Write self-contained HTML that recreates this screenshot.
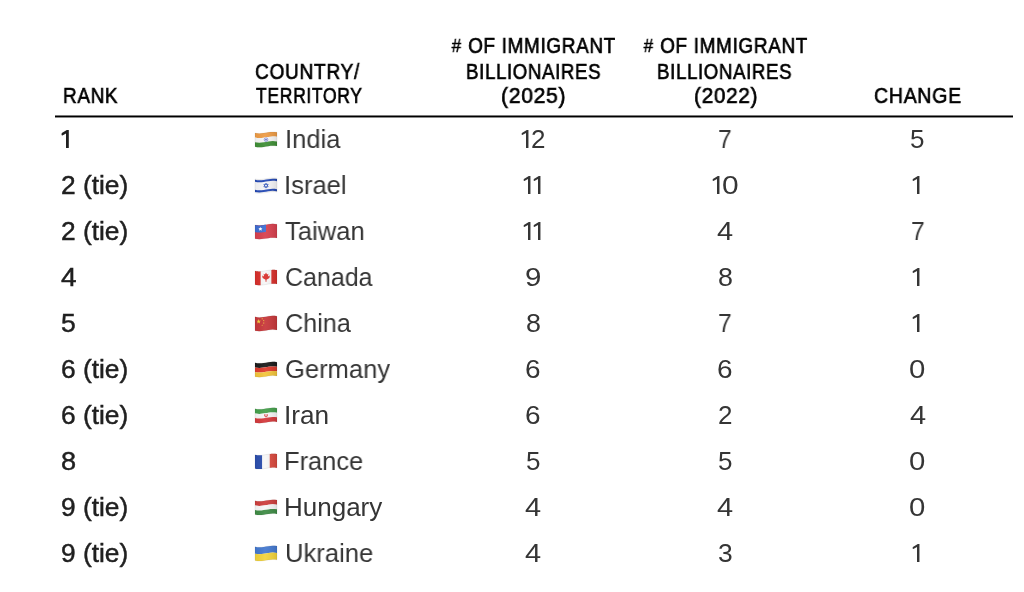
<!DOCTYPE html>
<html><head><meta charset="utf-8"><title>Immigrant billionaires</title>
<style>
html,body{margin:0;padding:0;background:#fff;}
body{width:1024px;height:592px;position:relative;overflow:hidden;font-family:"Liberation Sans",sans-serif;}
.t{position:absolute;white-space:nowrap;transform-origin:0 0;will-change:transform;}
.f{position:absolute;overflow:visible;}
.rule{position:absolute;left:55px;top:116px;width:958px;height:1px;background:#000;box-shadow:0 -1px 0 #7a7a7a,0 1px 0 #8a8a8a;}
</style></head><body>
<svg width="0" height="0" style="position:absolute"><defs><linearGradient id="shade" x1="0" y1="0" x2="1" y2="0"><stop offset="0" stop-color="#000" stop-opacity="0.04"/><stop offset="0.45" stop-color="#fff" stop-opacity="0.06"/><stop offset="1" stop-color="#000" stop-opacity="0.10"/></linearGradient></defs></svg>
<div class="t" style="left:62.73px;top:85.37px;font-size:22px;line-height:22px;color:#000;-webkit-text-stroke:0.65px #000;transform:scale(0.8590,1.0000);letter-spacing:0.8px;">RANK</div><div class="t" style="left:254.73px;top:60.57px;font-size:22px;line-height:22px;color:#000;-webkit-text-stroke:0.65px #000;transform:scale(0.8684,1.0000);letter-spacing:0.8px;">COUNTRY/</div><div class="t" style="left:255.66px;top:85.37px;font-size:22px;line-height:22px;color:#000;-webkit-text-stroke:0.65px #000;transform:scale(0.7986,1.0000);letter-spacing:0.8px;">TERRITORY</div><div class="t" style="left:451.39px;top:35.17px;font-size:22px;line-height:22px;color:#000;-webkit-text-stroke:0.65px #000;transform:scale(0.8586,1.0000);letter-spacing:0.8px;"><span style="display:inline-block;transform:scale(0.9,0.87);transform-origin:50% 62%">#</span> OF IMMIGRANT</div><div class="t" style="left:465.75px;top:60.57px;font-size:22px;line-height:22px;color:#000;-webkit-text-stroke:0.65px #000;transform:scale(0.8450,1.0000);letter-spacing:0.8px;">BILLIONAIRES</div><div class="t" style="left:500.98px;top:85.37px;font-size:22px;line-height:22px;color:#000;-webkit-text-stroke:0.65px #000;transform:scale(0.9535,1.0000);letter-spacing:0.8px;">(2025)</div><div class="t" style="left:643.09px;top:35.17px;font-size:22px;line-height:22px;color:#000;-webkit-text-stroke:0.65px #000;transform:scale(0.8592,1.0000);letter-spacing:0.8px;"><span style="display:inline-block;transform:scale(0.9,0.87);transform-origin:50% 62%">#</span> OF IMMIGRANT</div><div class="t" style="left:657.45px;top:60.57px;font-size:22px;line-height:22px;color:#000;-webkit-text-stroke:0.65px #000;transform:scale(0.8450,1.0000);letter-spacing:0.8px;">BILLIONAIRES</div><div class="t" style="left:693.79px;top:85.37px;font-size:22px;line-height:22px;color:#000;-webkit-text-stroke:0.65px #000;transform:scale(0.9382,1.0000);letter-spacing:0.8px;">(2022)</div><div class="t" style="left:874.21px;top:85.37px;font-size:22px;line-height:22px;color:#000;-webkit-text-stroke:0.65px #000;transform:scale(0.8877,1.0000);letter-spacing:0.8px;">CHANGE</div><svg class="f" style="left:60.60px;top:129.25px" width="9" height="20" viewBox="0 0 9 20"><path d="M5.80,1.00 L7.80,1.00 L7.80,19.00 L5.00,19.00 L5.00,4.50 L1.40,6.60 L0.70,6.20 L0.50,5.40 L0.80,4.10Z" fill="#202020"/></svg><div class="t" style="left:284.64px;top:126.24px;font-size:26px;line-height:26px;color:#353535;transform:scale(0.9815,1.0000);">India</div><svg class="f" style="left:520.90px;top:129.25px" width="9" height="20" viewBox="0 0 9 20"><path d="M5.80,1.10 L7.45,1.10 L7.45,19.00 L5.00,19.00 L5.00,4.10 L1.30,6.10 L0.80,5.80 L0.60,5.10 L0.90,4.10Z" fill="#353535"/></svg><div class="t" style="left:530.76px;top:126.24px;font-size:26px;line-height:26px;color:#353535;transform:scale(0.9958,1.0000);">2</div><div class="t" style="left:718.32px;top:126.24px;font-size:26px;line-height:26px;color:#353535;transform:scale(0.9496,1.0000);">7</div><div class="t" style="left:910.37px;top:126.24px;font-size:26px;line-height:26px;color:#353535;transform:scale(0.9837,1.0000);">5</div><div class="t" style="left:60.61px;top:172.22px;font-size:26px;line-height:26px;color:#202020;-webkit-text-stroke:0.45px #202020;transform:scale(1.0117,1.0000);">2 (tie)</div><div class="t" style="left:284.14px;top:172.22px;font-size:26px;line-height:26px;color:#353535;transform:scale(0.9848,1.0000);">Israel</div><svg class="f" style="left:522.70px;top:175.23px" width="9" height="20" viewBox="0 0 9 20"><path d="M5.80,1.10 L7.45,1.10 L7.45,19.00 L5.00,19.00 L5.00,4.10 L1.30,6.10 L0.80,5.80 L0.60,5.10 L0.90,4.10Z" fill="#353535"/></svg><svg class="f" style="left:532.80px;top:175.23px" width="9" height="20" viewBox="0 0 9 20"><path d="M5.80,1.10 L7.45,1.10 L7.45,19.00 L5.00,19.00 L5.00,4.10 L1.30,6.10 L0.80,5.80 L0.60,5.10 L0.90,4.10Z" fill="#353535"/></svg><svg class="f" style="left:711.60px;top:175.23px" width="9" height="20" viewBox="0 0 9 20"><path d="M5.80,1.10 L7.45,1.10 L7.45,19.00 L5.00,19.00 L5.00,4.10 L1.30,6.10 L0.80,5.80 L0.60,5.10 L0.90,4.10Z" fill="#353535"/></svg><div class="t" style="left:722.05px;top:172.22px;font-size:26px;line-height:26px;color:#353535;transform:scale(1.1500,1.0000);">0</div><svg class="f" style="left:912.40px;top:175.23px" width="9" height="20" viewBox="0 0 9 20"><path d="M5.80,1.10 L7.45,1.10 L7.45,19.00 L5.00,19.00 L5.00,4.10 L1.30,6.10 L0.80,5.80 L0.60,5.10 L0.90,4.10Z" fill="#353535"/></svg><div class="t" style="left:60.61px;top:218.20px;font-size:26px;line-height:26px;color:#202020;-webkit-text-stroke:0.45px #202020;transform:scale(1.0117,1.0000);">2 (tie)</div><div class="t" style="left:285.21px;top:218.20px;font-size:26px;line-height:26px;color:#353535;transform:scale(0.9848,1.0000);">Taiwan</div><svg class="f" style="left:522.70px;top:221.21px" width="9" height="20" viewBox="0 0 9 20"><path d="M5.80,1.10 L7.45,1.10 L7.45,19.00 L5.00,19.00 L5.00,4.10 L1.30,6.10 L0.80,5.80 L0.60,5.10 L0.90,4.10Z" fill="#353535"/></svg><svg class="f" style="left:532.80px;top:221.21px" width="9" height="20" viewBox="0 0 9 20"><path d="M5.80,1.10 L7.45,1.10 L7.45,19.00 L5.00,19.00 L5.00,4.10 L1.30,6.10 L0.80,5.80 L0.60,5.10 L0.90,4.10Z" fill="#353535"/></svg><div class="t" style="left:717.23px;top:218.20px;font-size:26px;line-height:26px;color:#353535;transform:scale(1.1145,1.0000);">4</div><div class="t" style="left:910.62px;top:218.20px;font-size:26px;line-height:26px;color:#353535;transform:scale(0.9496,1.0000);">7</div><div class="t" style="left:61.20px;top:264.18px;font-size:26px;line-height:26px;color:#202020;-webkit-text-stroke:0.45px #202020;transform:scale(1.0775,1.0000);">4</div><div class="t" style="left:284.75px;top:264.18px;font-size:26px;line-height:26px;color:#353535;transform:scale(0.9610,1.0000);">Canada</div><div class="t" style="left:525.14px;top:264.18px;font-size:26px;line-height:26px;color:#353535;transform:scale(1.1333,1.0000);">9</div><div class="t" style="left:717.76px;top:264.18px;font-size:26px;line-height:26px;color:#353535;transform:scale(1.0328,1.0000);">8</div><svg class="f" style="left:912.40px;top:267.19px" width="9" height="20" viewBox="0 0 9 20"><path d="M5.80,1.10 L7.45,1.10 L7.45,19.00 L5.00,19.00 L5.00,4.10 L1.30,6.10 L0.80,5.80 L0.60,5.10 L0.90,4.10Z" fill="#353535"/></svg><div class="t" style="left:60.71px;top:310.16px;font-size:26px;line-height:26px;color:#202020;-webkit-text-stroke:0.45px #202020;transform:scale(1.0196,1.0000);">5</div><div class="t" style="left:284.74px;top:310.16px;font-size:26px;line-height:26px;color:#353535;transform:scale(0.9685,1.0000);">China</div><div class="t" style="left:525.86px;top:310.16px;font-size:26px;line-height:26px;color:#353535;transform:scale(1.0328,1.0000);">8</div><div class="t" style="left:718.32px;top:310.16px;font-size:26px;line-height:26px;color:#353535;transform:scale(0.9496,1.0000);">7</div><svg class="f" style="left:912.40px;top:313.17px" width="9" height="20" viewBox="0 0 9 20"><path d="M5.80,1.10 L7.45,1.10 L7.45,19.00 L5.00,19.00 L5.00,4.10 L1.30,6.10 L0.80,5.80 L0.60,5.10 L0.90,4.10Z" fill="#353535"/></svg><div class="t" style="left:60.61px;top:356.14px;font-size:26px;line-height:26px;color:#202020;-webkit-text-stroke:0.45px #202020;transform:scale(1.0117,1.0000);">6 (tie)</div><div class="t" style="left:284.62px;top:356.14px;font-size:26px;line-height:26px;color:#353535;transform:scale(0.9829,1.0000);">Germany</div><div class="t" style="left:525.45px;top:356.14px;font-size:26px;line-height:26px;color:#353535;transform:scale(1.0750,1.0000);">6</div><div class="t" style="left:717.35px;top:356.14px;font-size:26px;line-height:26px;color:#353535;transform:scale(1.0750,1.0000);">6</div><div class="t" style="left:909.37px;top:356.14px;font-size:26px;line-height:26px;color:#353535;transform:scale(1.1290,1.0000);">0</div><div class="t" style="left:60.61px;top:402.12px;font-size:26px;line-height:26px;color:#202020;-webkit-text-stroke:0.45px #202020;transform:scale(1.0117,1.0000);">6 (tie)</div><div class="t" style="left:284.08px;top:402.12px;font-size:26px;line-height:26px;color:#353535;transform:scale(1.0074,1.0000);">Iran</div><div class="t" style="left:525.45px;top:402.12px;font-size:26px;line-height:26px;color:#353535;transform:scale(1.0750,1.0000);">6</div><div class="t" style="left:717.95px;top:402.12px;font-size:26px;line-height:26px;color:#353535;transform:scale(1.0000,1.0000);">2</div><div class="t" style="left:909.53px;top:402.12px;font-size:26px;line-height:26px;color:#353535;transform:scale(1.1145,1.0000);">4</div><div class="t" style="left:60.69px;top:448.10px;font-size:26px;line-height:26px;color:#202020;-webkit-text-stroke:0.45px #202020;transform:scale(1.0435,1.0000);">8</div><div class="t" style="left:284.45px;top:448.10px;font-size:26px;line-height:26px;color:#353535;transform:scale(0.9781,1.0000);">France</div><div class="t" style="left:526.17px;top:448.10px;font-size:26px;line-height:26px;color:#353535;transform:scale(0.9837,1.0000);">5</div><div class="t" style="left:718.07px;top:448.10px;font-size:26px;line-height:26px;color:#353535;transform:scale(0.9837,1.0000);">5</div><div class="t" style="left:909.37px;top:448.10px;font-size:26px;line-height:26px;color:#353535;transform:scale(1.1290,1.0000);">0</div><div class="t" style="left:60.72px;top:494.08px;font-size:26px;line-height:26px;color:#202020;-webkit-text-stroke:0.45px #202020;transform:scale(1.0101,1.0000);">9 (tie)</div><div class="t" style="left:284.41px;top:494.08px;font-size:26px;line-height:26px;color:#353535;transform:scale(0.9958,1.0000);">Hungary</div><div class="t" style="left:525.33px;top:494.08px;font-size:26px;line-height:26px;color:#353535;transform:scale(1.1145,1.0000);">4</div><div class="t" style="left:717.23px;top:494.08px;font-size:26px;line-height:26px;color:#353535;transform:scale(1.1145,1.0000);">4</div><div class="t" style="left:909.37px;top:494.08px;font-size:26px;line-height:26px;color:#353535;transform:scale(1.1290,1.0000);">0</div><div class="t" style="left:60.72px;top:540.06px;font-size:26px;line-height:26px;color:#202020;-webkit-text-stroke:0.45px #202020;transform:scale(1.0101,1.0000);">9 (tie)</div><div class="t" style="left:284.53px;top:540.06px;font-size:26px;line-height:26px;color:#353535;transform:scale(0.9838,1.0000);">Ukraine</div><div class="t" style="left:525.33px;top:540.06px;font-size:26px;line-height:26px;color:#353535;transform:scale(1.1145,1.0000);">4</div><div class="t" style="left:717.93px;top:540.06px;font-size:26px;line-height:26px;color:#353535;transform:scale(1.0163,1.0000);">3</div><svg class="f" style="left:912.40px;top:543.07px" width="9" height="20" viewBox="0 0 9 20"><path d="M5.80,1.10 L7.45,1.10 L7.45,19.00 L5.00,19.00 L5.00,4.10 L1.30,6.10 L0.80,5.80 L0.60,5.10 L0.90,4.10Z" fill="#353535"/></svg>
<div class="rule"></div>
<svg class="f" style="left:254px;top:131px" width="24" height="18" viewBox="-1 0 24 18"><g transform="translate(0,0.70)"><path d="M0.00,1.25 L2.13,1.65 L4.30,1.76 L6.52,1.65 L8.75,1.38 L11.00,1.03 L13.25,0.67 L15.48,0.37 L17.70,0.20 L19.87,0.24 L22.00,0.55 L22.00,5.15 L19.87,4.84 L17.70,4.80 L15.48,4.97 L13.25,5.27 L11.00,5.63 L8.75,5.98 L6.52,6.25 L4.30,6.36 L2.13,6.25 L0.00,5.85Z" fill="#EE9C45"/><path d="M0.00,5.85 L2.13,6.25 L4.30,6.36 L6.52,6.25 L8.75,5.98 L11.00,5.63 L13.25,5.27 L15.48,4.97 L17.70,4.80 L19.87,4.84 L22.00,5.15 L22.00,9.75 L19.87,9.44 L17.70,9.40 L15.48,9.57 L13.25,9.87 L11.00,10.23 L8.75,10.58 L6.52,10.85 L4.30,10.96 L2.13,10.85 L0.00,10.45Z" fill="#F7F7F7"/><path d="M0.00,10.45 L2.13,10.85 L4.30,10.96 L6.52,10.85 L8.75,10.58 L11.00,10.23 L13.25,9.87 L15.48,9.57 L17.70,9.40 L19.87,9.44 L22.00,9.75 L22.00,14.35 L19.87,14.04 L17.70,14.00 L15.48,14.17 L13.25,14.47 L11.00,14.83 L8.75,15.18 L6.52,15.45 L4.30,15.56 L2.13,15.45 L0.00,15.05Z" fill="#3F8F36"/><circle cx="11.00" cy="7.93" r="1.9" fill="#d6d9f2" stroke="#6570c8" stroke-width="0.55"/><circle cx="11.00" cy="7.93" r="0.65" fill="#23309a"/><path d="M0.00,1.25 L2.13,1.65 L4.30,1.76 L6.52,1.65 L8.75,1.38 L11.00,1.03 L13.25,0.67 L15.48,0.37 L17.70,0.20 L19.87,0.24 L22.00,0.55 L22.00,14.35 L19.87,14.04 L17.70,14.00 L15.48,14.17 L13.25,14.47 L11.00,14.83 L8.75,15.18 L6.52,15.45 L4.30,15.56 L2.13,15.45 L0.00,15.05Z" fill="url(#shade)"/><path d="M0.00,1.25 L2.13,1.65 L4.30,1.76 L6.52,1.65 L8.75,1.38 L11.00,1.03 L13.25,0.67 L15.48,0.37 L17.70,0.20 L19.87,0.24 L22.00,0.55 L22.00,14.35 L19.87,14.04 L17.70,14.00 L15.48,14.17 L13.25,14.47 L11.00,14.83 L8.75,15.18 L6.52,15.45 L4.30,15.56 L2.13,15.45 L0.00,15.05Z" fill="none" stroke="#000" stroke-opacity="0.13" stroke-width="0.5"/></g></svg><svg class="f" style="left:254px;top:177px" width="24" height="18" viewBox="-1 0 24 18"><g transform="translate(0,0.68)"><path d="M0.00,1.25 L2.13,1.65 L4.30,1.76 L6.52,1.65 L8.75,1.38 L11.00,1.03 L13.25,0.67 L15.48,0.37 L17.70,0.20 L19.87,0.24 L22.00,0.55 L22.00,14.35 L19.87,14.04 L17.70,14.00 L15.48,14.17 L13.25,14.47 L11.00,14.83 L8.75,15.18 L6.52,15.45 L4.30,15.56 L2.13,15.45 L0.00,15.05Z" fill="#F6F6F8"/><path d="M0.00,2.08 L2.13,2.48 L4.30,2.59 L6.52,2.48 L8.75,2.21 L11.00,1.86 L13.25,1.50 L15.48,1.20 L17.70,1.03 L19.87,1.07 L22.00,1.38 L22.00,3.45 L19.87,3.14 L17.70,3.10 L15.48,3.27 L13.25,3.57 L11.00,3.93 L8.75,4.28 L6.52,4.55 L4.30,4.66 L2.13,4.55 L0.00,4.15Z" fill="#2449B5"/><path d="M0.00,12.15 L2.13,12.56 L4.30,12.67 L6.52,12.55 L8.75,12.28 L11.00,11.93 L13.25,11.57 L15.48,11.27 L17.70,11.11 L19.87,11.14 L22.00,11.45 L22.00,13.52 L19.87,13.21 L17.70,13.18 L15.48,13.34 L13.25,13.64 L11.00,14.00 L8.75,14.35 L6.52,14.62 L4.30,14.74 L2.13,14.63 L0.00,14.22Z" fill="#2449B5"/><path d="M11.00,5.43 L13.17,9.18 L8.83,9.18Z" fill="none" stroke="#2449B5" stroke-width="0.7"/><path d="M11.00,10.43 L8.83,6.68 L13.17,6.68Z" fill="none" stroke="#2449B5" stroke-width="0.7"/><path d="M0.00,1.25 L2.13,1.65 L4.30,1.76 L6.52,1.65 L8.75,1.38 L11.00,1.03 L13.25,0.67 L15.48,0.37 L17.70,0.20 L19.87,0.24 L22.00,0.55 L22.00,14.35 L19.87,14.04 L17.70,14.00 L15.48,14.17 L13.25,14.47 L11.00,14.83 L8.75,15.18 L6.52,15.45 L4.30,15.56 L2.13,15.45 L0.00,15.05Z" fill="url(#shade)"/><path d="M0.00,1.25 L2.13,1.65 L4.30,1.76 L6.52,1.65 L8.75,1.38 L11.00,1.03 L13.25,0.67 L15.48,0.37 L17.70,0.20 L19.87,0.24 L22.00,0.55 L22.00,14.35 L19.87,14.04 L17.70,14.00 L15.48,14.17 L13.25,14.47 L11.00,14.83 L8.75,15.18 L6.52,15.45 L4.30,15.56 L2.13,15.45 L0.00,15.05Z" fill="none" stroke="#000" stroke-opacity="0.13" stroke-width="0.5"/></g></svg><svg class="f" style="left:254px;top:223px" width="24" height="18" viewBox="-1 0 24 18"><g transform="translate(0,0.66)"><path d="M0.00,1.25 L2.13,1.65 L4.30,1.76 L6.52,1.65 L8.75,1.38 L11.00,1.03 L13.25,0.67 L15.48,0.37 L17.70,0.20 L19.87,0.24 L22.00,0.55 L22.00,14.35 L19.87,14.04 L17.70,14.00 L15.48,14.17 L13.25,14.47 L11.00,14.83 L8.75,15.18 L6.52,15.45 L4.30,15.56 L2.13,15.45 L0.00,15.05Z" fill="#D8404E"/><path d="M0.00,1.25 L1.06,1.49 L2.13,1.65 L3.21,1.74 L4.30,1.76 L5.41,1.73 L6.52,1.65 L7.63,1.53 L8.75,1.38 L9.88,1.21 L11.00,1.03 L11.00,8.21 L9.88,8.39 L8.75,8.56 L7.63,8.71 L6.52,8.82 L5.41,8.91 L4.30,8.94 L3.21,8.92 L2.13,8.83 L1.06,8.67 L0.00,8.43Z" fill="#3E6ED3"/><path d="M5.41,3.12 L5.95,4.57 L7.50,4.64 L6.29,5.60 L6.70,7.10 L5.41,6.24 L4.11,7.10 L4.53,5.60 L3.31,4.64 L4.86,4.57Z" fill="#fff"/><circle cx="5.41" cy="5.32" r="1.1" fill="#fff"/><path d="M0.00,1.25 L2.13,1.65 L4.30,1.76 L6.52,1.65 L8.75,1.38 L11.00,1.03 L13.25,0.67 L15.48,0.37 L17.70,0.20 L19.87,0.24 L22.00,0.55 L22.00,14.35 L19.87,14.04 L17.70,14.00 L15.48,14.17 L13.25,14.47 L11.00,14.83 L8.75,15.18 L6.52,15.45 L4.30,15.56 L2.13,15.45 L0.00,15.05Z" fill="url(#shade)"/><path d="M0.00,1.25 L2.13,1.65 L4.30,1.76 L6.52,1.65 L8.75,1.38 L11.00,1.03 L13.25,0.67 L15.48,0.37 L17.70,0.20 L19.87,0.24 L22.00,0.55 L22.00,14.35 L19.87,14.04 L17.70,14.00 L15.48,14.17 L13.25,14.47 L11.00,14.83 L8.75,15.18 L6.52,15.45 L4.30,15.56 L2.13,15.45 L0.00,15.05Z" fill="none" stroke="#000" stroke-opacity="0.13" stroke-width="0.5"/></g></svg><svg class="f" style="left:254px;top:269px" width="24" height="18" viewBox="-1 0 24 18"><g transform="translate(0,0.64)"><path d="M0.00,1.25 L2.13,1.65 L4.30,1.76 L6.52,1.65 L8.75,1.38 L11.00,1.03 L13.25,0.67 L15.48,0.37 L17.70,0.20 L19.87,0.24 L22.00,0.55 L22.00,14.35 L19.87,14.04 L17.70,14.00 L15.48,14.17 L13.25,14.47 L11.00,14.83 L8.75,15.18 L6.52,15.45 L4.30,15.56 L2.13,15.45 L0.00,15.05Z" fill="#F7F7F7"/><path d="M0.00,1.25 L0.55,1.39 L1.10,1.50 L1.66,1.59 L2.21,1.66 L2.78,1.72 L3.34,1.75 L3.91,1.76 L4.48,1.76 L5.05,1.75 L5.63,1.72 L5.63,15.52 L5.05,15.55 L4.48,15.56 L3.91,15.56 L3.34,15.55 L2.78,15.52 L2.21,15.46 L1.66,15.39 L1.10,15.30 L0.55,15.19 L0.00,15.05Z" fill="#D9302C"/><path d="M16.37,0.28 L16.95,0.24 L17.52,0.21 L18.09,0.19 L18.66,0.19 L19.22,0.20 L19.79,0.23 L20.34,0.28 L20.90,0.35 L21.45,0.44 L22.00,0.55 L22.00,14.35 L21.45,14.24 L20.90,14.15 L20.34,14.08 L19.79,14.03 L19.22,14.00 L18.66,13.99 L18.09,13.99 L17.52,14.01 L16.95,14.04 L16.37,14.08Z" fill="#D9302C"/><path d="M11.00,2.80 L12.08,4.87 L13.40,4.18 L12.92,6.94 L14.84,5.79 L14.36,8.32 L11.48,10.16 L11.48,12.23 L10.52,12.23 L10.52,10.16 L7.64,8.32 L7.16,5.79 L9.08,6.94 L8.60,4.18 L9.92,4.87Z" fill="#D9302C"/><path d="M0.00,1.25 L2.13,1.65 L4.30,1.76 L6.52,1.65 L8.75,1.38 L11.00,1.03 L13.25,0.67 L15.48,0.37 L17.70,0.20 L19.87,0.24 L22.00,0.55 L22.00,14.35 L19.87,14.04 L17.70,14.00 L15.48,14.17 L13.25,14.47 L11.00,14.83 L8.75,15.18 L6.52,15.45 L4.30,15.56 L2.13,15.45 L0.00,15.05Z" fill="url(#shade)"/><path d="M0.00,1.25 L2.13,1.65 L4.30,1.76 L6.52,1.65 L8.75,1.38 L11.00,1.03 L13.25,0.67 L15.48,0.37 L17.70,0.20 L19.87,0.24 L22.00,0.55 L22.00,14.35 L19.87,14.04 L17.70,14.00 L15.48,14.17 L13.25,14.47 L11.00,14.83 L8.75,15.18 L6.52,15.45 L4.30,15.56 L2.13,15.45 L0.00,15.05Z" fill="none" stroke="#000" stroke-opacity="0.13" stroke-width="0.5"/></g></svg><svg class="f" style="left:254px;top:315px" width="24" height="18" viewBox="-1 0 24 18"><g transform="translate(0,0.62)"><path d="M0.00,1.25 L2.13,1.65 L4.30,1.76 L6.52,1.65 L8.75,1.38 L11.00,1.03 L13.25,0.67 L15.48,0.37 L17.70,0.20 L19.87,0.24 L22.00,0.55 L22.00,14.35 L19.87,14.04 L17.70,14.00 L15.48,14.17 L13.25,14.47 L11.00,14.83 L8.75,15.18 L6.52,15.45 L4.30,15.56 L2.13,15.45 L0.00,15.05Z" fill="#C8383B"/><path d="M3.65,3.50 L4.24,5.08 L5.93,5.16 L4.61,6.21 L5.06,7.84 L3.65,6.91 L2.24,7.84 L2.69,6.21 L1.36,5.16 L3.05,5.08Z" fill="#F6D33C"/><path d="M7.18,2.44 L7.38,2.97 L7.95,2.99 L7.50,3.34 L7.66,3.88 L7.18,3.57 L6.71,3.88 L6.87,3.34 L6.42,2.99 L6.99,2.97Z" fill="#F6D33C"/><path d="M8.75,4.17 L8.95,4.70 L9.51,4.72 L9.07,5.07 L9.22,5.62 L8.75,5.30 L8.28,5.62 L8.43,5.07 L7.99,4.72 L8.55,4.70Z" fill="#F6D33C"/><path d="M8.75,6.65 L8.95,7.18 L9.51,7.21 L9.07,7.56 L9.22,8.10 L8.75,7.79 L8.28,8.10 L8.43,7.56 L7.99,7.21 L8.55,7.18Z" fill="#F6D33C"/><path d="M7.18,8.79 L7.38,9.31 L7.95,9.34 L7.50,9.69 L7.66,10.23 L7.18,9.92 L6.71,10.23 L6.87,9.69 L6.42,9.34 L6.99,9.31Z" fill="#F6D33C"/><path d="M0.00,1.25 L2.13,1.65 L4.30,1.76 L6.52,1.65 L8.75,1.38 L11.00,1.03 L13.25,0.67 L15.48,0.37 L17.70,0.20 L19.87,0.24 L22.00,0.55 L22.00,14.35 L19.87,14.04 L17.70,14.00 L15.48,14.17 L13.25,14.47 L11.00,14.83 L8.75,15.18 L6.52,15.45 L4.30,15.56 L2.13,15.45 L0.00,15.05Z" fill="url(#shade)"/><path d="M0.00,1.25 L2.13,1.65 L4.30,1.76 L6.52,1.65 L8.75,1.38 L11.00,1.03 L13.25,0.67 L15.48,0.37 L17.70,0.20 L19.87,0.24 L22.00,0.55 L22.00,14.35 L19.87,14.04 L17.70,14.00 L15.48,14.17 L13.25,14.47 L11.00,14.83 L8.75,15.18 L6.52,15.45 L4.30,15.56 L2.13,15.45 L0.00,15.05Z" fill="none" stroke="#000" stroke-opacity="0.13" stroke-width="0.5"/></g></svg><svg class="f" style="left:254px;top:361px" width="24" height="18" viewBox="-1 0 24 18"><g transform="translate(0,0.60)"><path d="M0.00,1.25 L2.13,1.65 L4.30,1.76 L6.52,1.65 L8.75,1.38 L11.00,1.03 L13.25,0.67 L15.48,0.37 L17.70,0.20 L19.87,0.24 L22.00,0.55 L22.00,5.15 L19.87,4.84 L17.70,4.80 L15.48,4.97 L13.25,5.27 L11.00,5.63 L8.75,5.98 L6.52,6.25 L4.30,6.36 L2.13,6.25 L0.00,5.85Z" fill="#1B1B1B"/><path d="M0.00,5.85 L2.13,6.25 L4.30,6.36 L6.52,6.25 L8.75,5.98 L11.00,5.63 L13.25,5.27 L15.48,4.97 L17.70,4.80 L19.87,4.84 L22.00,5.15 L22.00,9.75 L19.87,9.44 L17.70,9.40 L15.48,9.57 L13.25,9.87 L11.00,10.23 L8.75,10.58 L6.52,10.85 L4.30,10.96 L2.13,10.85 L0.00,10.45Z" fill="#DD3A2C"/><path d="M0.00,10.45 L2.13,10.85 L4.30,10.96 L6.52,10.85 L8.75,10.58 L11.00,10.23 L13.25,9.87 L15.48,9.57 L17.70,9.40 L19.87,9.44 L22.00,9.75 L22.00,14.35 L19.87,14.04 L17.70,14.00 L15.48,14.17 L13.25,14.47 L11.00,14.83 L8.75,15.18 L6.52,15.45 L4.30,15.56 L2.13,15.45 L0.00,15.05Z" fill="#F3C53B"/><path d="M0.00,1.25 L2.13,1.65 L4.30,1.76 L6.52,1.65 L8.75,1.38 L11.00,1.03 L13.25,0.67 L15.48,0.37 L17.70,0.20 L19.87,0.24 L22.00,0.55 L22.00,14.35 L19.87,14.04 L17.70,14.00 L15.48,14.17 L13.25,14.47 L11.00,14.83 L8.75,15.18 L6.52,15.45 L4.30,15.56 L2.13,15.45 L0.00,15.05Z" fill="url(#shade)"/><path d="M0.00,1.25 L2.13,1.65 L4.30,1.76 L6.52,1.65 L8.75,1.38 L11.00,1.03 L13.25,0.67 L15.48,0.37 L17.70,0.20 L19.87,0.24 L22.00,0.55 L22.00,14.35 L19.87,14.04 L17.70,14.00 L15.48,14.17 L13.25,14.47 L11.00,14.83 L8.75,15.18 L6.52,15.45 L4.30,15.56 L2.13,15.45 L0.00,15.05Z" fill="none" stroke="#000" stroke-opacity="0.13" stroke-width="0.5"/></g></svg><svg class="f" style="left:254px;top:407px" width="24" height="18" viewBox="-1 0 24 18"><g transform="translate(0,0.58)"><path d="M0.00,1.25 L2.13,1.65 L4.30,1.76 L6.52,1.65 L8.75,1.38 L11.00,1.03 L13.25,0.67 L15.48,0.37 L17.70,0.20 L19.87,0.24 L22.00,0.55 L22.00,5.15 L19.87,4.84 L17.70,4.80 L15.48,4.97 L13.25,5.27 L11.00,5.63 L8.75,5.98 L6.52,6.25 L4.30,6.36 L2.13,6.25 L0.00,5.85Z" fill="#45A04C"/><path d="M0.00,5.85 L2.13,6.25 L4.30,6.36 L6.52,6.25 L8.75,5.98 L11.00,5.63 L13.25,5.27 L15.48,4.97 L17.70,4.80 L19.87,4.84 L22.00,5.15 L22.00,9.75 L19.87,9.44 L17.70,9.40 L15.48,9.57 L13.25,9.87 L11.00,10.23 L8.75,10.58 L6.52,10.85 L4.30,10.96 L2.13,10.85 L0.00,10.45Z" fill="#F7F7F7"/><path d="M0.00,10.45 L2.13,10.85 L4.30,10.96 L6.52,10.85 L8.75,10.58 L11.00,10.23 L13.25,9.87 L15.48,9.57 L17.70,9.40 L19.87,9.44 L22.00,9.75 L22.00,14.35 L19.87,14.04 L17.70,14.00 L15.48,14.17 L13.25,14.47 L11.00,14.83 L8.75,15.18 L6.52,15.45 L4.30,15.56 L2.13,15.45 L0.00,15.05Z" fill="#D53A3C"/><path d="M9.50,6.73 Q9.10,9.23 11.00,9.33 Q12.90,9.23 12.50,6.73" fill="none" stroke="#D53A3C" stroke-width="0.8"/><path d="M11.00,6.43 L11.00,9.33" stroke="#D53A3C" stroke-width="0.7"/><path d="M0.00,1.25 L2.13,1.65 L4.30,1.76 L6.52,1.65 L8.75,1.38 L11.00,1.03 L13.25,0.67 L15.48,0.37 L17.70,0.20 L19.87,0.24 L22.00,0.55 L22.00,14.35 L19.87,14.04 L17.70,14.00 L15.48,14.17 L13.25,14.47 L11.00,14.83 L8.75,15.18 L6.52,15.45 L4.30,15.56 L2.13,15.45 L0.00,15.05Z" fill="url(#shade)"/><path d="M0.00,1.25 L2.13,1.65 L4.30,1.76 L6.52,1.65 L8.75,1.38 L11.00,1.03 L13.25,0.67 L15.48,0.37 L17.70,0.20 L19.87,0.24 L22.00,0.55 L22.00,14.35 L19.87,14.04 L17.70,14.00 L15.48,14.17 L13.25,14.47 L11.00,14.83 L8.75,15.18 L6.52,15.45 L4.30,15.56 L2.13,15.45 L0.00,15.05Z" fill="none" stroke="#000" stroke-opacity="0.13" stroke-width="0.5"/></g></svg><svg class="f" style="left:254px;top:453px" width="24" height="18" viewBox="-1 0 24 18"><g transform="translate(0,0.56)"><path d="M0.00,1.25 L0.70,1.42 L1.41,1.56 L2.13,1.65 L2.85,1.72 L3.57,1.76 L4.30,1.76 L5.04,1.75 L5.78,1.71 L6.52,1.65 L7.26,1.57 L7.26,15.37 L6.52,15.45 L5.78,15.51 L5.04,15.55 L4.30,15.56 L3.57,15.56 L2.85,15.52 L2.13,15.45 L1.41,15.36 L0.70,15.22 L0.00,15.05Z" fill="#2C4FAE"/><path d="M7.26,1.57 L8.00,1.48 L8.75,1.38 L9.50,1.27 L10.25,1.15 L11.00,1.03 L11.75,0.91 L12.50,0.79 L13.25,0.67 L14.00,0.56 L14.74,0.46 L14.74,14.26 L14.00,14.36 L13.25,14.47 L12.50,14.59 L11.75,14.71 L11.00,14.83 L10.25,14.95 L9.50,15.07 L8.75,15.18 L8.00,15.28 L7.26,15.37Z" fill="#F7F7F7"/><path d="M14.74,0.46 L15.48,0.37 L16.22,0.30 L16.96,0.24 L17.70,0.20 L18.43,0.19 L19.15,0.20 L19.87,0.24 L20.59,0.31 L21.30,0.41 L22.00,0.55 L22.00,14.35 L21.30,14.21 L20.59,14.11 L19.87,14.04 L19.15,14.00 L18.43,13.99 L17.70,14.00 L16.96,14.04 L16.22,14.10 L15.48,14.17 L14.74,14.26Z" fill="#DA4A3E"/><path d="M0.00,1.25 L2.13,1.65 L4.30,1.76 L6.52,1.65 L8.75,1.38 L11.00,1.03 L13.25,0.67 L15.48,0.37 L17.70,0.20 L19.87,0.24 L22.00,0.55 L22.00,14.35 L19.87,14.04 L17.70,14.00 L15.48,14.17 L13.25,14.47 L11.00,14.83 L8.75,15.18 L6.52,15.45 L4.30,15.56 L2.13,15.45 L0.00,15.05Z" fill="url(#shade)"/><path d="M0.00,1.25 L2.13,1.65 L4.30,1.76 L6.52,1.65 L8.75,1.38 L11.00,1.03 L13.25,0.67 L15.48,0.37 L17.70,0.20 L19.87,0.24 L22.00,0.55 L22.00,14.35 L19.87,14.04 L17.70,14.00 L15.48,14.17 L13.25,14.47 L11.00,14.83 L8.75,15.18 L6.52,15.45 L4.30,15.56 L2.13,15.45 L0.00,15.05Z" fill="none" stroke="#000" stroke-opacity="0.13" stroke-width="0.5"/></g></svg><svg class="f" style="left:254px;top:499px" width="24" height="18" viewBox="-1 0 24 18"><g transform="translate(0,0.54)"><path d="M0.00,1.25 L2.13,1.65 L4.30,1.76 L6.52,1.65 L8.75,1.38 L11.00,1.03 L13.25,0.67 L15.48,0.37 L17.70,0.20 L19.87,0.24 L22.00,0.55 L22.00,5.15 L19.87,4.84 L17.70,4.80 L15.48,4.97 L13.25,5.27 L11.00,5.63 L8.75,5.98 L6.52,6.25 L4.30,6.36 L2.13,6.25 L0.00,5.85Z" fill="#CE3F3D"/><path d="M0.00,5.85 L2.13,6.25 L4.30,6.36 L6.52,6.25 L8.75,5.98 L11.00,5.63 L13.25,5.27 L15.48,4.97 L17.70,4.80 L19.87,4.84 L22.00,5.15 L22.00,9.75 L19.87,9.44 L17.70,9.40 L15.48,9.57 L13.25,9.87 L11.00,10.23 L8.75,10.58 L6.52,10.85 L4.30,10.96 L2.13,10.85 L0.00,10.45Z" fill="#F7F7F7"/><path d="M0.00,10.45 L2.13,10.85 L4.30,10.96 L6.52,10.85 L8.75,10.58 L11.00,10.23 L13.25,9.87 L15.48,9.57 L17.70,9.40 L19.87,9.44 L22.00,9.75 L22.00,14.35 L19.87,14.04 L17.70,14.00 L15.48,14.17 L13.25,14.47 L11.00,14.83 L8.75,15.18 L6.52,15.45 L4.30,15.56 L2.13,15.45 L0.00,15.05Z" fill="#3F8C46"/><path d="M0.00,1.25 L2.13,1.65 L4.30,1.76 L6.52,1.65 L8.75,1.38 L11.00,1.03 L13.25,0.67 L15.48,0.37 L17.70,0.20 L19.87,0.24 L22.00,0.55 L22.00,14.35 L19.87,14.04 L17.70,14.00 L15.48,14.17 L13.25,14.47 L11.00,14.83 L8.75,15.18 L6.52,15.45 L4.30,15.56 L2.13,15.45 L0.00,15.05Z" fill="url(#shade)"/><path d="M0.00,1.25 L2.13,1.65 L4.30,1.76 L6.52,1.65 L8.75,1.38 L11.00,1.03 L13.25,0.67 L15.48,0.37 L17.70,0.20 L19.87,0.24 L22.00,0.55 L22.00,14.35 L19.87,14.04 L17.70,14.00 L15.48,14.17 L13.25,14.47 L11.00,14.83 L8.75,15.18 L6.52,15.45 L4.30,15.56 L2.13,15.45 L0.00,15.05Z" fill="none" stroke="#000" stroke-opacity="0.13" stroke-width="0.5"/></g></svg><svg class="f" style="left:254px;top:545px" width="24" height="18" viewBox="-1 0 24 18"><g transform="translate(0,0.52)"><path d="M0.00,1.25 L2.13,1.65 L4.30,1.76 L6.52,1.65 L8.75,1.38 L11.00,1.03 L13.25,0.67 L15.48,0.37 L17.70,0.20 L19.87,0.24 L22.00,0.55 L22.00,7.45 L19.87,7.14 L17.70,7.10 L15.48,7.27 L13.25,7.57 L11.00,7.93 L8.75,8.28 L6.52,8.55 L4.30,8.66 L2.13,8.55 L0.00,8.15Z" fill="#4479D0"/><path d="M0.00,8.15 L2.13,8.55 L4.30,8.66 L6.52,8.55 L8.75,8.28 L11.00,7.93 L13.25,7.57 L15.48,7.27 L17.70,7.10 L19.87,7.14 L22.00,7.45 L22.00,14.35 L19.87,14.04 L17.70,14.00 L15.48,14.17 L13.25,14.47 L11.00,14.83 L8.75,15.18 L6.52,15.45 L4.30,15.56 L2.13,15.45 L0.00,15.05Z" fill="#F3D43C"/><path d="M0.00,1.25 L2.13,1.65 L4.30,1.76 L6.52,1.65 L8.75,1.38 L11.00,1.03 L13.25,0.67 L15.48,0.37 L17.70,0.20 L19.87,0.24 L22.00,0.55 L22.00,14.35 L19.87,14.04 L17.70,14.00 L15.48,14.17 L13.25,14.47 L11.00,14.83 L8.75,15.18 L6.52,15.45 L4.30,15.56 L2.13,15.45 L0.00,15.05Z" fill="url(#shade)"/><path d="M0.00,1.25 L2.13,1.65 L4.30,1.76 L6.52,1.65 L8.75,1.38 L11.00,1.03 L13.25,0.67 L15.48,0.37 L17.70,0.20 L19.87,0.24 L22.00,0.55 L22.00,14.35 L19.87,14.04 L17.70,14.00 L15.48,14.17 L13.25,14.47 L11.00,14.83 L8.75,15.18 L6.52,15.45 L4.30,15.56 L2.13,15.45 L0.00,15.05Z" fill="none" stroke="#000" stroke-opacity="0.13" stroke-width="0.5"/></g></svg>
</body></html>
